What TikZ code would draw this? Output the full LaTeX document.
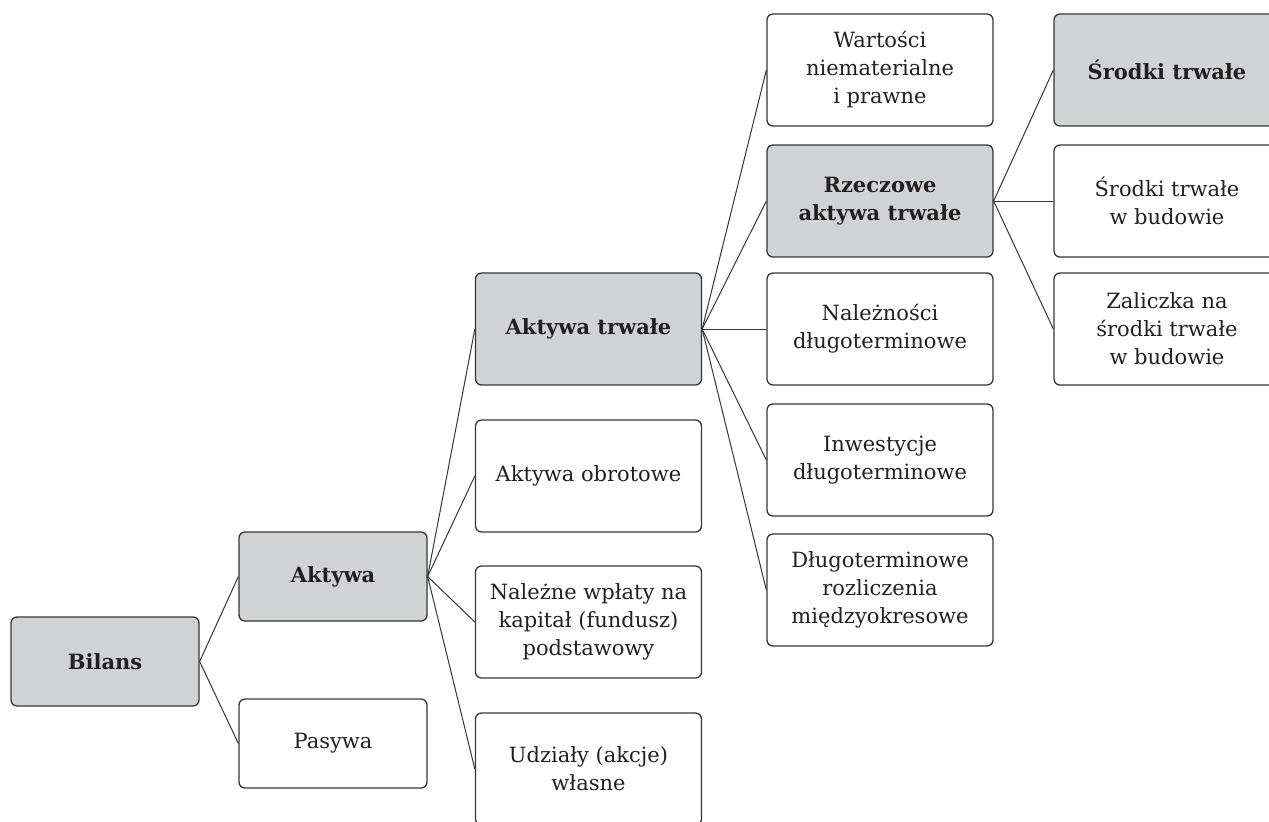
\documentclass[tikz,border=0pt]{standalone}
\usepackage{fontspec}
\setmainfont{DejaVu Serif}
\usepackage{xcolor}
\usepackage{tikz}
\usetikzlibrary{positioning}
\definecolor{bilgray}{RGB}{209,210,212}
\definecolor{billine}{RGB}{55,53,54}
\definecolor{biltext}{RGB}{35,31,32}
\tikzset{
    box/.style={draw=billine, line width=0.65pt, rounded corners=3pt, align=center,
        text=biltext, inner sep=0pt, font=\fontsize{10.5}{14}\selectfont},
    smallbox/.style={box, minimum width=94pt, minimum height=44.5pt},
    bigbox/.style={box, minimum width=113pt, minimum height=56pt},
    keybox/.style={fill=bilgray, font=\fontsize{10.5}{14}\selectfont\bfseries},
    link/.style={draw=billine, line width=0.5pt}
}
\begin{document}
\begin{tikzpicture}[x=0.5pt, y=-0.5pt]
    \useasboundingbox (0,0) rectangle (1269,821);

    % Level 0 and 1
    \node[smallbox, keybox] (bilans) at (105,661.5) {Bilans};
    \node[smallbox, keybox] (aktywa) at (333,576.5) {Aktywa};
    \node[smallbox] (pasywa) at (333,743.5) {Pasywa};

    % Level 2
    \node[bigbox, keybox] (trwale) at (588.5,329) {Aktywa trwałe};
    \node[bigbox] (obrotowe) at (588.5,476) {Aktywa obrotowe};
    \node[bigbox] (wplaty) at (588.5,622) {Należne wpłaty na\\kapitał (fundusz)\\podstawowy};
    \node[bigbox] (udzialy) at (588.5,769) {Udziały (akcje)\\własne};

    % Level 3
    \node[bigbox] (wartosci) at (880,70) {Wartości\\niematerialne\\i prawne};
    \node[bigbox, keybox] (rzeczowe) at (880,201) {Rzeczowe\\aktywa trwałe};
    \node[bigbox] (naleznosci) at (880,329) {Należności\\długoterminowe};
    \node[bigbox] (inwestycje) at (880,460) {Inwestycje\\długoterminowe};
    \node[bigbox] (rozliczenia) at (880,590) {Długoterminowe\\rozliczenia\\międzyokresowe};

    % Level 4
    \node[bigbox, keybox] (srodki) at (1167,70) {Środki trwałe};
    \node[bigbox] (budowa) at (1167,201) {Środki trwałe\\w budowie};
    \node[bigbox] (zaliczka) at (1167,329) {Zaliczka na\\środki trwałe\\w budowie};

    % Connectors
    \foreach \c in {aktywa, pasywa}
        \draw[link] (bilans.east) -- (\c.west);
    \foreach \c in {trwale, obrotowe, wplaty, udzialy}
        \draw[link] (aktywa.east) -- (\c.west);
    \foreach \c in {wartosci, rzeczowe, naleznosci, inwestycje, rozliczenia}
        \draw[link] (trwale.east) -- (\c.west);
    \foreach \c in {srodki, budowa, zaliczka}
        \draw[link] (rzeczowe.east) -- (\c.west);
\end{tikzpicture}
\end{document}
